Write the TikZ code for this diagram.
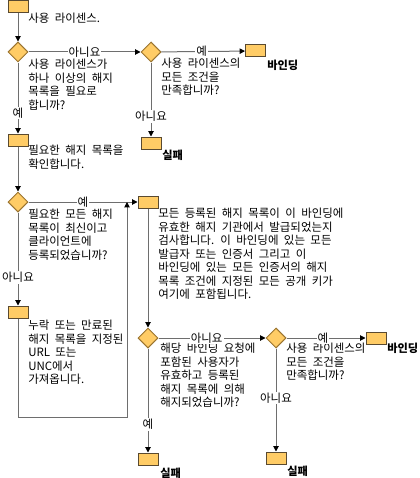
\documentclass[tikz,border=0pt]{standalone}
\usepackage{fontspec}
\setmainfont{Noto Sans CJK KR}[WordSpace=2.1]
\usetikzlibrary{shapes.geometric,arrows.meta}
\definecolor{boxfill}{HTML}{FFCC66}
\definecolor{boxline}{HTML}{5A4A30}
\definecolor{dmline}{HTML}{9A7430}
\definecolor{linegray}{HTML}{6E6E6E}
\begin{document}
\begin{tikzpicture}[x=0.75pt,y=-0.75pt,
  txt/.style={anchor=north west,inner sep=0pt,align=left,font=\fontsize{8.6}{10.1}\selectfont},
  boldtxt/.style={anchor=north west,inner sep=0pt,font=\fontsize{8.4}{10.1}\selectfont\bfseries},
  lbl/.style={fill=white,inner sep=0.8pt,font=\fontsize{8.6}{10.1}\selectfont},
  bx/.style={draw=boxline,fill=boxfill,minimum width=15pt,minimum height=9pt,inner sep=0pt,line width=0.75pt},
  dm/.style={diamond,aspect=1,draw=dmline,fill=boxfill,minimum width=15pt,minimum height=15pt,inner sep=0pt,line width=0.75pt},
  con/.style={draw=linegray,line width=0.75pt},
  arr/.style={con,-{Triangle[length=4pt,width=4pt,color=black]}}]
\useasboundingbox (0,0) rectangle (419,478);
% nodes
\node[bx] (b1) at (18,7) {};
\node[dm] (d1) at (18,52) {};
\node[dm] (d2) at (151,52) {};
\node[bx] (bind1) at (255.5,51) {};
\node[bx] (fail1) at (151,143) {};
\node[bx] (b2) at (18,140) {};
\node[dm] (d3) at (18,202) {};
\node[bx] (b4) at (148,202) {};
\node[bx] (b5) at (18,312) {};
\node[dm] (d4) at (148,338) {};
\node[dm] (d5) at (276,338) {};
\node[bx] (bind2) at (376,338) {};
\node[bx] (fail2) at (148,459) {};
\node[bx] (fail3) at (276,458) {};
% texts
\node[txt] (t1) at (28,13) {사용 라이센스.};
\node[txt] (t2) at (28,59) {사용 라이센스가\\하나 이상의 해지\\목록을 필요로\\합니까?};
\node[txt] (t3) at (161,58) {사용 라이센스의\\모든 조건을\\만족합니까?};
\node[boldtxt] (t4) at (267,60) {바인딩};
\node[boldtxt] (t5) at (162,150) {실패};
\node[txt] (t6) at (28,145) {필요한 해지 목록을\\확인합니다.};
\node[txt] (t7) at (28,209) {필요한 모든 해지\\목록이 최신이고\\클라이언트에\\등록되었습니까?};
\node[txt] (t8) at (158,208) {모든 등록된 해지 목록이 이 바인딩에\\유효한 해지 기관에서 발급되었는지\\검사합니다. 이 바인딩에 있는 모든\\발급자 또는 인증서 그리고 이\\바인딩에 있는 모든 인증서의 해지\\목록 조건에 지정된 모든 공개 키가\\여기에 포함됩니다.};
\node[txt] (t9) at (28,320) {누락 또는 만료된\\해지 목록을 지정된\\URL 또는\\UNC에서\\가져옵니다.};
\node[txt] (t10) at (160,343) {해당 바인딩 요청에\\포함된 사용자가\\유효하고 등록된\\해지 목록에 의해\\해지되었습니까?};
\node[txt] (t11) at (286,343) {사용 라이센스의\\모든 조건을\\만족합니까?};
\node[boldtxt] (t12) at (387,343) {바인딩};
\node[boldtxt] (t13) at (160,468) {실패};
\node[boldtxt] (t14) at (287,466) {실패};
% loop coordinates
\coordinate (lp1) at (18,417);
\coordinate (lp2) at (127,417);
\coordinate (lp3) at (127,202);
% connectors
\draw[arr] (b1) -- (d1);
\draw[arr] (d1) -- node[lbl]{아니요} (d2);
\draw[arr] (d2) -- node[lbl,pos=0.48]{예} (bind1);
\draw[arr] (d2) -- node[lbl,pos=0.73]{아니요} (fail1);
\draw[arr] (d1) -- node[lbl,pos=0.71]{예} (b2);
\draw[arr] (b2) -- (d3);
\draw[arr] (d3) -- node[lbl,pos=0.5]{예} (b4);
\draw[arr] (d3) -- node[lbl,pos=0.70]{아니요} (b5);
\draw[arr] (b5) -- (lp1) -- (lp2) -- (lp3);
\draw[arr] (b4) -- (d4);
\draw[arr] (d4) -- node[lbl,pos=0.45]{아니요} (d5);
\draw[arr] (d4) -- node[lbl,pos=0.73]{예} (fail2);
\draw[arr] (d5) -- node[lbl,pos=0.46]{예} (bind2);
\draw[arr] (d5) -- node[lbl,pos=0.48]{아니요} (fail3);
\end{tikzpicture}
\end{document}
